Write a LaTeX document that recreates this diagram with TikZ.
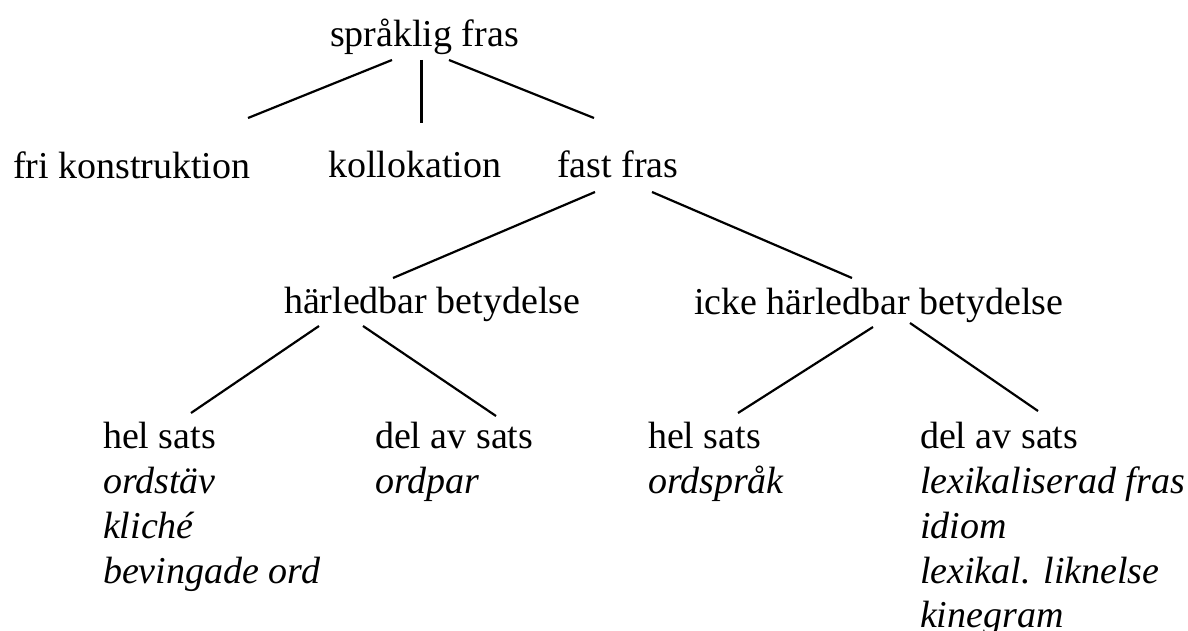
\documentclass[tikz,border=0pt]{standalone}
\usepackage{fontspec}
\setmainfont{Liberation Serif}[ItalicFont={Liberation Serif Italic}]
\begin{document}
\begin{tikzpicture}[x=1pt,y=-1pt,
  lbl/.style={inner sep=0pt,outer sep=0pt,anchor=base west,font=\fontsize{38}{45}\selectfont},
  ex/.style={lbl,font=\fontsize{38}{45}\selectfont\itshape},
  edge/.style={line width=2.2pt,black},
  thick edge/.style={line width=3pt,black}]
\useasboundingbox (0,0) rectangle (1188,631);
% level 0
\node[lbl] (sf) at (330,47) {språklig fras};
% level 1
\node[lbl] (fri) at (13,179) {fri konstruktion};
\node[lbl] (koll) at (328,178) {kollokation};
\node[lbl] (fast) at (557,178) {fast fras};
% level 2
\node[lbl] (harl) at (284,313) {härledbar betydelse};
\node[lbl] (icke) at (694,314) {icke härledbar betydelse};
% level 3
\node[lbl] (helA) at (103,448) {hel sats};
\node[ex] (helA1) at (103,493) {ordstäv};
\node[ex] (helA2) at (103,538) {kliché};
\node[ex] (helA3) at (103,583) {bevingade ord};
\node[lbl] (delA) at (375,448) {del av sats};
\node[ex] (delA1) at (375,493) {ordpar};
\node[lbl] (helB) at (648,448) {hel sats};
\node[ex] (helB1) at (648,493) {ordspråk};
\node[lbl] (delB) at (920,448) {del av sats};
\node[ex] (delB1) at (920,493) {lexikaliserad fras};
\node[ex] (delB2) at (920,538) {idiom};
\node[ex] (delB3) at (920,583) {lexikal. liknelse};
\node[ex] (delB4) at (920,627) {kinegram};
% connectors
\draw[edge] ([shift={(62,13)}]sf.base west) -- ([shift={(235,-61)}]fri.base west);
\draw[thick edge] ([shift={(91,13)}]sf.base west) -- ([shift={(93,-55)}]koll.base west);
\draw[edge] ([shift={(119,13)}]sf.base west) -- ([shift={(37,-60)}]fast.base west);
\draw[edge] ([shift={(38,14)}]fast.base west) -- ([shift={(109,-35)}]harl.base west);
\draw[edge] ([shift={(95,14)}]fast.base west) -- ([shift={(158,-36)}]icke.base west);
\draw[edge] ([shift={(35,13)}]harl.base west) -- ([shift={(88,-35)}]helA.base west);
\draw[edge] ([shift={(79,13)}]harl.base west) -- ([shift={(121,-32)}]delA.base west);
\draw[edge] ([shift={(179,13)}]icke.base west) -- ([shift={(90,-35)}]helB.base west);
\draw[edge] ([shift={(216,9)}]icke.base west) -- ([shift={(118,-37)}]delB.base west);
\end{tikzpicture}
\end{document}
